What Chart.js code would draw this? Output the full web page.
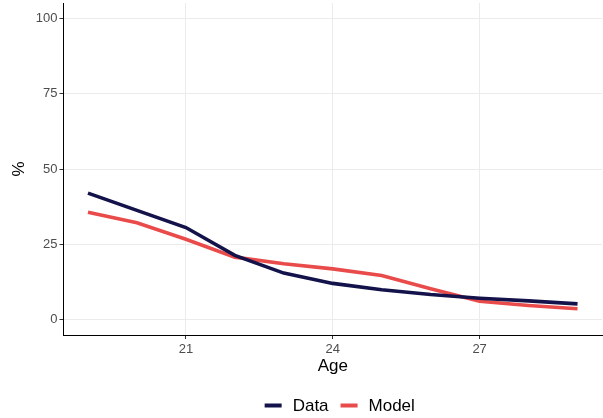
<!DOCTYPE html>
<html>
<head>
<meta charset="utf-8">
<script src="https://cdn.jsdelivr.net/npm/chart.js@4"></script>
<style>
  html, body { margin: 0; padding: 0; background: #ffffff; }
  #wrap { width: 603px; height: 418px; }
</style>
</head>
<body>
<div id="wrap"><canvas id="c" width="603" height="418"></canvas></div>
<script>
// Share (%) by age: observed data vs. model prediction
const ages = [19, 20, 21, 22, 23, 24, 25, 26, 27, 28, 29];
const dataValues  = [42.0, 36.3, 30.6, 21.4, 15.5, 12.1, 10.0, 8.4, 7.2, 6.3, 5.3];
const modelValues = [35.7, 32.2, 26.7, 20.8, 18.6, 16.9, 14.7, 10.3, 6.2, 4.8, 3.7];
const xTicks = [21, 24, 27];
const yTicks = [0, 25, 50, 75, 100];

const navy = '#13124b';
const red = '#e94b4b';
const FONT = "'Liberation Sans', Arial, sans-serif";

const toPoints = (vals) => ages.map((a, i) => ({ x: a, y: vals[i] }));

// Legend drawn underneath the plot as short line swatches
const bottomLegend = {
  id: 'bottomLegend',
  afterDraw(chart) {
    const ctx = chart.ctx;
    const items = chart.data.datasets.map(d => ({ label: d.label, color: d.borderColor }));
    ctx.save();
    ctx.font = '17px ' + FONT;
    const sw = 17, gapSw = 11, gapItem = 12;
    const widths = items.map(it => ctx.measureText(it.label).width);
    let total = 0;
    items.forEach((it, i) => { total += sw + gapSw + widths[i]; if (i < items.length - 1) total += gapItem; });
    const ca = chart.chartArea;
    let x = (ca.left + ca.right) / 2 + 7 - total / 2;
    const y = 405.5;
    items.forEach((it, i) => {
      ctx.strokeStyle = it.color;
      ctx.lineWidth = 4;
      ctx.beginPath();
      ctx.moveTo(x, y);
      ctx.lineTo(x + sw, y);
      ctx.stroke();
      x += sw + gapSw;
      ctx.fillStyle = '#000000';
      ctx.textBaseline = 'middle';
      ctx.textAlign = 'left';
      ctx.fillText(it.label, x, y + 0.5);
      x += widths[i] + gapItem;
    });
    ctx.restore();
  }
};

new Chart(document.getElementById('c'), {
  type: 'line',
  data: {
    datasets: [
      { label: 'Data', data: toPoints(dataValues), borderColor: navy, backgroundColor: navy,
        borderWidth: 3.6, pointRadius: 0, tension: 0, borderCapStyle: 'butt' },
      { label: 'Model', data: toPoints(modelValues), borderColor: red, backgroundColor: red,
        borderWidth: 3.6, pointRadius: 0, tension: 0, borderCapStyle: 'butt' }
    ]
  },
  options: {
    responsive: false,
    animation: false,
    devicePixelRatio: 1,
    layout: { padding: { top: 3, right: 1, bottom: 40, left: 0 } },
    plugins: { legend: { display: false }, tooltip: { enabled: false } },
    scales: {
      x: {
        type: 'linear',
        min: 18.5, max: 29.5,
        afterBuildTicks: (s) => { s.ticks = xTicks.map(v => ({ value: v })); },
        afterFit: (s) => { s.height = 43; s.paddingLeft = 0; s.paddingRight = 0; },
        grid: { color: '#ebebeb', lineWidth: 1, tickColor: '#333333', tickLength: 4, drawTicks: true },
        border: { display: true, color: '#000000', width: 1 },
        ticks: { color: '#4d4d4d', font: { family: FONT, size: 13 }, padding: 3, maxRotation: 0 },
        title: { display: true, text: 'Age', color: '#000000', font: { family: FONT, size: 17 },
                 padding: { top: 0, bottom: 1 } }
      },
      y: {
        min: -5, max: 105,
        afterBuildTicks: (s) => { s.ticks = yTicks.map(v => ({ value: v })); },
        afterFit: (s) => { s.width = 63.5; s.paddingTop = 0; s.paddingBottom = 0; },
        grid: { color: '#ebebeb', lineWidth: 1, tickColor: '#333333', tickLength: 4, drawTicks: true },
        border: { display: true, color: '#000000', width: 1 },
        ticks: { color: '#4d4d4d', font: { family: FONT, size: 13 }, padding: 2 },
        title: { display: true, text: '%', color: '#000000', font: { family: FONT, size: 17 },
                 padding: { top: 9, bottom: 0 } }
      }
    }
  },
  plugins: [bottomLegend]
});
</script>
</body>
</html>
